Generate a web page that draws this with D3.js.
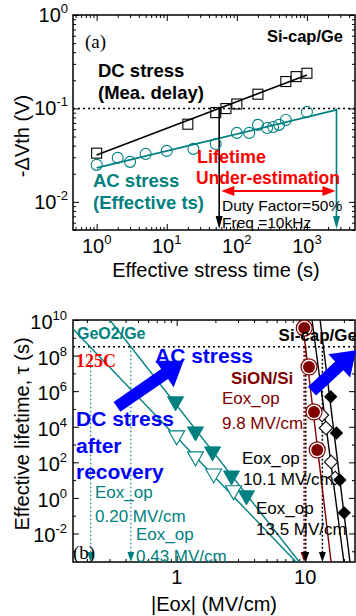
<!DOCTYPE html>
<html lang="en">
<head>
<meta charset="UTF-8">
<meta name="viewport" content="width=device-width, initial-scale=1.0">
<title>Lifetime under AC and DC stress</title>
<script src="https://d3js.org/d3.v7.min.js"></script>
<style>
    body { margin: 0; background: #fff; }
    svg { display: block; font-family: Arial, "Liberation Sans", sans-serif; }
    .serif { font-family: "Liberation Serif", "Times New Roman", serif; }
</style>
</head>
<body>
<svg id="chart" width="356" height="616"></svg>
<script>
// ---------- panel (a): -dVth vs effective stress time ----------
const timeDomainA = [0.46, 4850];
const shiftDomainA = [0.005, 1];
const timeTicksA = [1, 10, 100, 1000];
const shiftTicksA = [0.01, 0.1, 1];

const dcTime = [1, 20, 50, 70, 100, 200, 500, 700, 1000];
const dcShift = [0.0332, 0.0678, 0.0902, 0.0997, 0.1116, 0.142, 0.194, 0.219, 0.238];
const acTime = [1, 2, 3, 5, 10, 24, 50, 100, 150, 200, 270, 330, 400, 500, 1000];
const acShift = [0.0249, 0.0296, 0.0268, 0.0326, 0.0351, 0.0369, 0.0417, 0.0547, 0.0547, 0.0667, 0.0618, 0.0634, 0.0667, 0.0753, 0.0918];
const dcFitTime = [1, 1000];
const dcFitShift = [0.0318, 0.228];
const acFitTime = [1, 2640];
const acFitShift = [0.0231, 0.0964];
const criterionShift = 0.1;
const dcLifetime = 56;
const acLifetime = 2640;
const gapArrowTime = [60, 2550];
const gapArrowShift = 0.0131;

// ---------- panel (b): effective lifetime vs |Eox| ----------
const eoxDomainB = [0.156, 24.4];
const tauDomainB = [2.5e-4, 1e10];
const eoxTicksB = [1, 10];
const tauTicksB = [1e-2, 1, 1e2, 1e4, 1e6, 1e8, 1e10];
const tenYears = 3.15e8;

const geAcEox = [0.98, 1.40, 1.90, 2.67, 3.49];
const geAcTau = [2.2e5, 4.5e3, 340, 15, 1.15];
const geDcEox = [1.0, 1.40, 1.94, 2.77];
const geDcTau = [2.7e3, 178, 19.5, 2.2];
const geAcFitEox = [0.302, 9.0];
const geAcFitTau = [1e10, 2.5e-4];
const geDcFitEox = [0.156, 8.5];
const geDcFitTau = [3.1e9, 2.5e-4];

const sionEox = [9.83, 10.7, 11.7, 12.4];
const sionTau = [3.5e9, 2.3e7, 6.8e4, 500];
const sionFitEox = [9.48, 15.9];
const sionFitTau = [1e10, 2.5e-4];

const siCapAcEox = [15.8, 17.5, 18.6, 20.1];
const siCapAcTau = [4.9e5, 4.5e3, 10.2, 0.145];
const siCapDcEox = [13.5, 14.5, 15.9, 17.1];
const siCapDcTau = [4.6e4, 8.5e3, 105, 13.2];
const siCapAcFitEox = [13.06, 22.3];
const siCapAcFitTau = [1e10, 2.5e-4];
const siCapDcFitEox = [11.3, 20.0];
const siCapDcFitTau = [1e10, 2.5e-4];

const eoxOp = [0.214, 0.44, 9.8, 10.1, 13.6];
const acArrowEox = [0.343, 1.13];
const acArrowTau = [1.3e5, 5.0e7];
const siCapArrowEox = [11.3, 24.9];
const siCapArrowTau = [1.0e6, 2.0e8];

const teal = "#008080", maroon = "#800000";
const svg = d3.select("#chart");

const boxA = { left: 73, right: 355, top: 15, bottom: 230 };
const boxB = { left: 73, right: 355, top: 320, bottom: 562 };

const xA = d3.scaleLog().domain(timeDomainA).range([boxA.left, boxA.right]);
const yA = d3.scaleLog().domain(shiftDomainA).range([boxA.bottom, boxA.top]);
const xB = d3.scaleLog().domain(eoxDomainB).range([boxB.left, boxB.right]);
const yB = d3.scaleLog().domain(tauDomainB).range([boxB.bottom, boxB.top]);

function minorLog(domain) {
    const out = [];
    const lo = Math.floor(Math.log10(domain[0])), hi = Math.ceil(Math.log10(domain[1]));
    for (let k = lo; k <= hi; k++) {
        for (let m = 2; m <= 9; m++) {
            const v = m * Math.pow(10, k);
            if (v >= domain[0] && v <= domain[1]) out.push(v);
        }
    }
    return out;
}

// inward ticks on all four sides, then the frame
function drawFrame(box, x, y, xMajor, xMinor, yMajor, yMinor) {
    const g = svg.append("g");
    const sides = [
        [d3.axisBottom, x, `translate(0,${box.bottom})`, xMajor, xMinor],
        [d3.axisTop, x, `translate(0,${box.top})`, xMajor, xMinor],
        [d3.axisLeft, y, `translate(${box.left},0)`, yMajor, yMinor],
        [d3.axisRight, y, `translate(${box.right},0)`, yMajor, yMinor]
    ];
    sides.forEach(([fn, sc, tr, major, minor]) => {
        [[major, 6], [minor, 3]].forEach(([vals, len]) => {
            g.append("g").attr("transform", tr)
                .call(fn(sc).tickValues(vals).tickSize(-len).tickFormat(""))
                .call(s => s.select(".domain").remove())
                .call(s => s.selectAll("line").attr("stroke-width", 1));
        });
    });
    g.append("rect")
        .attr("x", box.left).attr("y", box.top)
        .attr("width", box.right - box.left).attr("height", box.bottom - box.top)
        .attr("fill", "none").attr("stroke", "#000").attr("stroke-width", 1.5);
}

function powLabel(sel, exp) {
    sel.append("tspan").text("10");
    sel.append("tspan").attr("dy", -9).attr("font-size", 13).text(exp);
}

function textAt(x, y, str, opts = {}) {
    const t = svg.append("text")
        .attr("x", x).attr("y", y)
        .attr("font-size", opts.size || 17)
        .attr("font-weight", opts.bold ? "bold" : "normal")
        .attr("fill", opts.color || "#000")
        .attr("text-anchor", opts.anchor || "start")
        .text(str);
    if (opts.serif) t.attr("class", "serif");
    return t;
}

function downHead(x, yTip, len, half, color) {
    svg.append("path")
        .attr("d", `M${x},${yTip}L${x - half},${yTip - len}L${x + half},${yTip - len}Z`)
        .attr("fill", color);
}

function blockArrow(x0, y0, x1, y1, shaft, head, headLen, color) {
    const dx = x1 - x0, dy = y1 - y0, L = Math.hypot(dx, dy);
    const ux = dx / L, uy = dy / L, nx = -uy, ny = ux;
    const bx = x1 - ux * headLen, by = y1 - uy * headLen;
    const pts = [
        [x0 + nx * shaft, y0 + ny * shaft], [bx + nx * shaft, by + ny * shaft],
        [bx + nx * head, by + ny * head], [x1, y1],
        [bx - nx * head, by - ny * head], [bx - nx * shaft, by - ny * shaft],
        [x0 - nx * shaft, y0 - ny * shaft]
    ];
    svg.append("path").attr("d", "M" + pts.map(p => p.join(",")).join("L") + "Z").attr("fill", color);
}

// ================= panel (a) =================
drawFrame(boxA, xA, yA, timeTicksA, minorLog(timeDomainA), shiftTicksA, minorLog(shiftDomainA));

timeTicksA.forEach(t => {
    svg.append("text").attr("x", xA(t)).attr("y", 253).attr("font-size", 20)
        .attr("text-anchor", "middle").call(powLabel, Math.round(Math.log10(t)));
});
shiftTicksA.forEach(v => {
    svg.append("text").attr("x", 68).attr("y", yA(v) + 7).attr("font-size", 20)
        .attr("text-anchor", "end").call(powLabel, Math.round(Math.log10(v)));
});
textAt(216, 277, "Effective stress time (s)", { size: 20, anchor: "middle" });
textAt(0, 0, "-\u0394Vth (V)", { size: 20, anchor: "middle" })
    .attr("transform", `translate(29,136) rotate(-90)`);

// criterion line
svg.append("line")
    .attr("x1", boxA.left).attr("x2", boxA.right)
    .attr("y1", yA(criterionShift)).attr("y2", yA(criterionShift))
    .attr("stroke", "#000").attr("stroke-width", 1.4).attr("stroke-dasharray", "2,3");

const lineA = d3.line().x(d => xA(d[0])).y(d => yA(d[1]));
svg.append("path").attr("d", lineA(d3.zip(dcFitTime, dcFitShift)))
    .attr("fill", "none").attr("stroke", "#000").attr("stroke-width", 1.5);
svg.append("path").attr("d", lineA(d3.zip(acFitTime, acFitShift)))
    .attr("fill", "none").attr("stroke", teal).attr("stroke-width", 1.8);

// lifetime drops
[[dcLifetime, "#000"], [acLifetime, teal]].forEach(([t, c]) => {
    svg.append("line")
        .attr("x1", xA(t)).attr("x2", xA(t))
        .attr("y1", yA(criterionShift)).attr("y2", boxA.bottom - 10)
        .attr("stroke", c).attr("stroke-width", 1.6);
    downHead(xA(t), boxA.bottom - 1, 13, 3.5, c);
});

svg.append("g").selectAll("rect").data(d3.zip(dcTime, dcShift)).join("rect")
    .attr("x", d => xA(d[0]) - 5).attr("y", d => yA(d[1]) - 5)
    .attr("width", 10).attr("height", 10)
    .attr("fill", "none").attr("stroke", "#000").attr("stroke-width", 1.1);
svg.append("g").selectAll("circle").data(d3.zip(acTime, acShift)).join("circle")
    .attr("cx", d => xA(d[0])).attr("cy", d => yA(d[1])).attr("r", 5.5)
    .attr("fill", "none").attr("stroke", teal).attr("stroke-width", 1.1);

// red double arrow
{
    const x0 = xA(gapArrowTime[0]), x1 = xA(gapArrowTime[1]), y = yA(gapArrowShift);
    svg.append("line").attr("x1", x0 + 8).attr("x2", x1 - 8).attr("y1", y).attr("y2", y)
        .attr("stroke", "red").attr("stroke-width", 2);
    svg.append("path").attr("d", `M${x0},${y}L${x0 + 13},${y - 5}L${x0 + 13},${y + 5}Z`).attr("fill", "red");
    svg.append("path").attr("d", `M${x1},${y}L${x1 - 13},${y - 5}L${x1 - 13},${y + 5}Z`).attr("fill", "red");
}

textAt(85, 48, "(a)", { size: 19, serif: true });
textAt(343, 42, "Si-cap/Ge", { size: 16.5, bold: true, anchor: "end" });
textAt(98, 77, "DC stress", { size: 18.5, bold: true });
textAt(98, 99, "(Mea. delay)", { size: 18.5, bold: true });
textAt(197, 163, "Lifetime", { size: 18, bold: true, color: "red" });
textAt(196, 184, "Under-estimation", { size: 17.5, bold: true, color: "red" });
textAt(93, 187, "AC stress", { size: 18.5, bold: true, color: teal });
textAt(93, 209, "(Effective ts)", { size: 18.5, bold: true, color: teal });
textAt(222, 211, "Duty Factor=50%", { size: 15.5 });
textAt(222, 228, "Freq =10kHz", { size: 15.5 });

// ================= panel (b) =================
const tauMinor = d3.range(-3, 10, 2).map(k => Math.pow(10, k));
drawFrame(boxB, xB, yB, eoxTicksB, minorLog(eoxDomainB), tauTicksB, tauMinor);

eoxTicksB.forEach(e => {
    textAt(xB(e), 584, String(e), { size: 20, anchor: "middle" });
});
tauTicksB.forEach(v => {
    svg.append("text").attr("x", 67).attr("y", yB(v) + 9).attr("font-size", 20)
        .attr("text-anchor", "end").call(powLabel, Math.round(Math.log10(v)));
});
textAt(214, 611, "|Eox| (MV/cm)", { size: 20, anchor: "middle" });
textAt(0, 0, "Effective lifetime, \u03c4 (s)", { size: 20, anchor: "middle" })
    .attr("transform", `translate(29,434) rotate(-90)`);

svg.append("clipPath").attr("id", "clipB").append("rect")
    .attr("x", boxB.left).attr("y", boxB.top)
    .attr("width", boxB.right - boxB.left).attr("height", boxB.bottom - boxB.top);
const plotB = svg.append("g").attr("clip-path", "url(#clipB)");

// 10-year line
plotB.append("line")
    .attr("x1", boxB.left).attr("x2", boxB.right)
    .attr("y1", yB(tenYears)).attr("y2", yB(tenYears))
    .attr("stroke", "#000").attr("stroke-width", 1.4).attr("stroke-dasharray", "2,3");

// Eox_op drops
const opColors = [teal, teal, maroon, "#000", "#000"];
eoxOp.forEach((e, i) => {
    plotB.append("line")
        .attr("x1", xB(e)).attr("x2", xB(e))
        .attr("y1", yB(tenYears)).attr("y2", boxB.bottom - 8)
        .attr("stroke", opColors[i]).attr("stroke-width", i < 2 ? 1.2 : 1.5)
        .attr("stroke-dasharray", i < 2 ? "1.5,2.5" : "2,2");
    downHead(xB(e), boxB.bottom, 10, 3.5, opColors[i]);
});

const lineB = d3.line().x(d => xB(d[0])).y(d => yB(d[1]));
[[geAcFitEox, geAcFitTau, teal], [geDcFitEox, geDcFitTau, teal],
 [sionFitEox, sionFitTau, maroon],
 [siCapAcFitEox, siCapAcFitTau, "#000"], [siCapDcFitEox, siCapDcFitTau, "#000"]
].forEach(([ex, tx, c]) => {
    plotB.append("path").attr("d", lineB(d3.zip(ex, tx)))
        .attr("fill", "none").attr("stroke", c).attr("stroke-width", 1.4);
});

function triPath(cx, cy) {
    return `M${cx - 8},${cy - 6}L${cx + 8},${cy - 6}L${cx},${cy + 8}Z`;
}
plotB.append("g").selectAll("path").data(d3.zip(geDcEox, geDcTau)).join("path")
    .attr("d", d => triPath(xB(d[0]), yB(d[1])))
    .attr("fill", "#fff").attr("stroke", teal).attr("stroke-width", 1.1);
plotB.append("g").selectAll("path").data(d3.zip(geAcEox, geAcTau)).join("path")
    .attr("d", d => triPath(xB(d[0]), yB(d[1])))
    .attr("fill", teal).attr("stroke", teal);

const diamond = d3.symbol(d3.symbolSquare, 90)();
plotB.append("g").selectAll("path").data(d3.zip(siCapDcEox, siCapDcTau)).join("path")
    .attr("d", diamond)
    .attr("transform", d => `translate(${xB(d[0])},${yB(d[1])}) rotate(45)`)
    .attr("fill", "#fff").attr("stroke", "#000").attr("stroke-width", 1.1);
plotB.append("g").selectAll("path").data(d3.zip(siCapAcEox, siCapAcTau)).join("path")
    .attr("d", diamond)
    .attr("transform", d => `translate(${xB(d[0])},${yB(d[1])}) rotate(45)`)
    .attr("fill", "#000");

const sionG = plotB.append("g").selectAll("g").data(d3.zip(sionEox, sionTau)).join("g")
    .attr("transform", d => `translate(${xB(d[0])},${yB(d[1])})`);
sionG.append("circle").attr("r", 8).attr("fill", "#fff").attr("stroke", maroon).attr("stroke-width", 1.2);
sionG.append("circle").attr("r", 6).attr("fill", maroon);

// blue trend arrows
blockArrow(xB(acArrowEox[0]), yB(acArrowTau[0]), xB(acArrowEox[1]), yB(acArrowTau[1]), 6, 16, 23, "blue");
blockArrow(xB(siCapArrowEox[0]), yB(siCapArrowTau[0]), xB(siCapArrowEox[1]), yB(siCapArrowTau[1]), 6, 16, 23, "blue");

textAt(77, 339, "GeO2/Ge", { size: 16, bold: true, color: teal });
textAt(76, 367, "125C", { size: 18, bold: true, serif: true, color: "red" });
textAt(155, 363, "AC stress", { size: 21, bold: true, color: "blue" });
textAt(76, 426, "DC stress", { size: 21, bold: true, color: "blue" });
textAt(76, 453, "after", { size: 21, bold: true, color: "blue" });
textAt(76, 479, "recovery", { size: 21, bold: true, color: "blue" });
textAt(95, 498, "Eox_op", { size: 17, color: teal });
textAt(95, 522, "0.20 MV/cm", { size: 17, color: teal });
textAt(136, 540, "Eox_op", { size: 17, color: teal });
textAt(136, 562, "0.43 MV/cm", { size: 17, color: teal });
textAt(357, 341, "Si-cap/Ge", { size: 17, bold: true, anchor: "end" });
textAt(231, 384, "SiON/Si", { size: 17, bold: true, color: maroon });
textAt(222, 404, "Eox_op", { size: 17, color: maroon });
textAt(222, 429, "9.8 MV/cm", { size: 17, color: maroon });
textAt(242, 464, "Eox_op", { size: 17 });
textAt(243, 485, "10.1 MV/cm", { size: 17 });
textAt(256, 514, "Eox_op", { size: 17 });
textAt(256, 535, "13.5 MV/cm", { size: 17 });
textAt(73, 559, "(b)", { size: 19, serif: true });
</script>
</body>
</html>
